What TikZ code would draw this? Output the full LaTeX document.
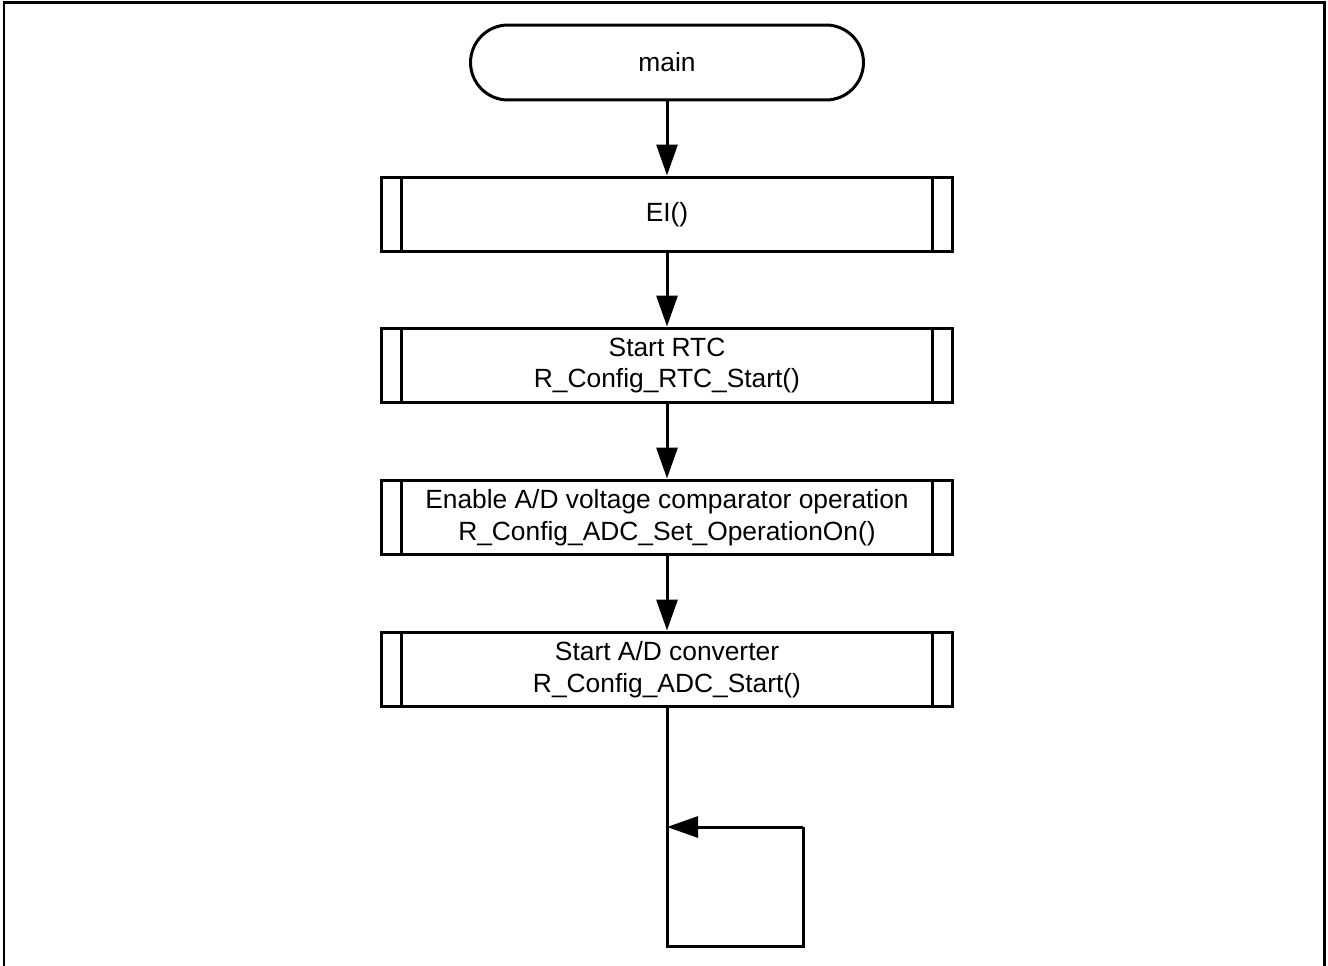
\documentclass[tikz,border=0pt]{standalone}
\usepackage{fontspec}
\setmainfont{Liberation Sans}
\usetikzlibrary{arrows.meta}

\begin{document}
\begin{tikzpicture}[x=0.02cm,y=-0.02cm,line width=0.06cm,
  font=\fontsize{15}{18}\selectfont,
  term/.style={draw=black,rounded corners=0.75cm,minimum width=7.86cm,minimum height=1.5cm,inner sep=0pt},
  subr/.style={draw=black,minimum width=11.44cm,minimum height=1.5cm,inner sep=0pt,align=center},
  flow/.style={-{Triangle[length=0.62cm,width=0.42cm]}}]
\useasboundingbox (0,0) rectangle (1328,966);
% \draw[help lines] (0,0) grid (1328,966);
\draw (4,966) -- (4,3) -- (1324,3) -- (1324,966);
%
\node (main) [term] at (667,62.5) {main};
\node (ei) [subr] at (667,214.5) {EI()};
\node (rtc) [subr] at (667,365.5) {Start RTC\\R\_Config\_RTC\_Start()};
\node (cmp) [subr] at (667,517.5) {Enable A/D voltage comparator operation\\R\_Config\_ADC\_Set\_OperationOn()};
\node (adc) [subr] at (667,669.5) {Start A/D converter\\R\_Config\_ADC\_Start()};
%
\draw ([xshift=0.44cm]ei.north west) -- ([xshift=0.44cm]ei.south west);
\draw ([xshift=-0.44cm]ei.north east) -- ([xshift=-0.44cm]ei.south east);
\draw ([xshift=0.44cm]rtc.north west) -- ([xshift=0.44cm]rtc.south west);
\draw ([xshift=-0.44cm]rtc.north east) -- ([xshift=-0.44cm]rtc.south east);
\draw ([xshift=0.44cm]cmp.north west) -- ([xshift=0.44cm]cmp.south west);
\draw ([xshift=-0.44cm]cmp.north east) -- ([xshift=-0.44cm]cmp.south east);
\draw ([xshift=0.44cm]adc.north west) -- ([xshift=0.44cm]adc.south west);
\draw ([xshift=-0.44cm]adc.north east) -- ([xshift=-0.44cm]adc.south east);
%
\coordinate (loopbl) at (667,946);
\coordinate (loopbr) at (803,946);
\coordinate (looptr) at (803,827);
\coordinate (looptl) at (667,827);
%
\path[flow](main) edge (ei);
\path[flow](ei) edge (rtc);
\path[flow](rtc) edge (cmp);
\path[flow](cmp) edge (adc);
\draw (adc) -- (loopbl) -- (loopbr) -- (looptr);
\draw[flow] (looptr) -- (looptl);
\end{tikzpicture}
\end{document}
